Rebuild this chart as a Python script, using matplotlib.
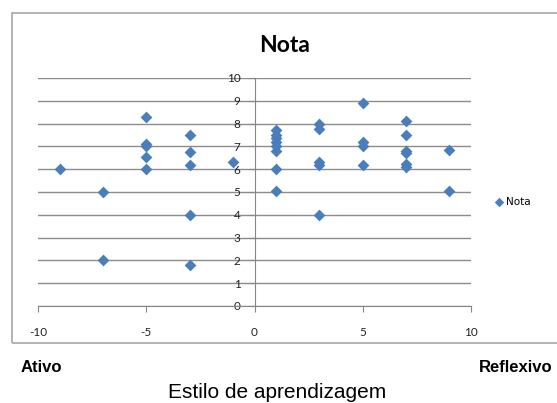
import matplotlib.pyplot as plt
from matplotlib.patches import Rectangle

plt.rcParams['axes.unicode_minus'] = False

# estilo de aprendizagem (x) e nota (y)
estilo = [-9, -7, -7, -5, -5, -5, -5, -5, -3, -3, -3, -3, -3, -1,
          1, 1, 1, 1, 1, 1, 1, 1, 3, 3, 3, 3, 3, 5, 5, 5, 5,
          7, 7, 7, 7, 7, 7, 9, 9]
nota = [6.0, 5.0, 2.0, 8.3, 7.1, 7.0, 6.55, 6.0, 7.5, 6.75, 6.2, 4.0, 1.8, 6.3,
        7.7, 7.5, 7.35, 7.2, 7.0, 6.8, 6.0, 5.05, 8.0, 7.75, 6.3, 6.2, 4.0,
        8.9, 7.2, 7.0, 6.2, 8.1, 7.5, 6.8, 6.7, 6.25, 6.1, 6.85, 5.05]

xticks = [-10, -5, 0, 5, 10]
yticks = list(range(0, 11))

W, H = 557, 403
fig = plt.figure(figsize=(W / 100, H / 100), dpi=100)

# moldura do gráfico
fig.patches.append(Rectangle((12 / W, 1 - 343 / H), 560 / W, 330 / H,
                             transform=fig.transFigure, fill=False,
                             edgecolor='#a6a6a6', lw=1.2))

ax = fig.add_axes([38 / W, 1 - 306 / H, (471 - 38) / W, (306 - 78) / H])
ax.scatter(estilo, nota, marker='D', s=36, color='#4a7ebb', zorder=3,
           label='Nota', linewidths=0)

ax.set_xlim(-10, 10)
ax.set_ylim(0, 10)
ax.set_xticks(xticks)
ax.set_yticks(yticks)

for s in ['top', 'right']:
    ax.spines[s].set_visible(False)
ax.spines['left'].set_position(('data', 0))
ax.spines['left'].set_color('#868686')
ax.spines['bottom'].set_color('#868686')
ax.yaxis.grid(True, color='#8c8c8c', lw=1)
ax.set_axisbelow(True)

ax.tick_params(axis='y', length=4, color='#868686', pad=6,
               labelsize=8.5, labelcolor='#222222')
ax.tick_params(axis='x', length=4, color='#868686', pad=11,
               labelsize=8.5, labelcolor='#222222')
for lab in ax.get_xticklabels() + ax.get_yticklabels():
    lab.set_family('Lato')

fig.text(285 / W, 1 - 45 / H, 'Nota', ha='center', va='center',
         fontsize=16.5, fontweight='bold', family='Lato')

ax.legend(loc='center left', bbox_to_anchor=(489 / W, 1 - 202 / H),
          bbox_transform=fig.transFigure, frameon=False, fontsize=7.5,
          handletextpad=0.1, markerscale=0.8, borderpad=0, handlelength=1)

fig.text(21 / W, 1 - 367 / H, 'Ativo', ha='left', va='center',
         fontsize=12, fontweight='bold', family='Liberation Sans')
fig.text(553 / W, 1 - 367 / H, 'Reflexivo', ha='right', va='center',
         fontsize=12, fontweight='bold', family='Liberation Sans')
fig.text(277 / W, 1 - 392 / H, 'Estilo de aprendizagem', ha='center',
         va='center', fontsize=15, family='Liberation Sans')

fig.savefig('out.png', dpi=100)
